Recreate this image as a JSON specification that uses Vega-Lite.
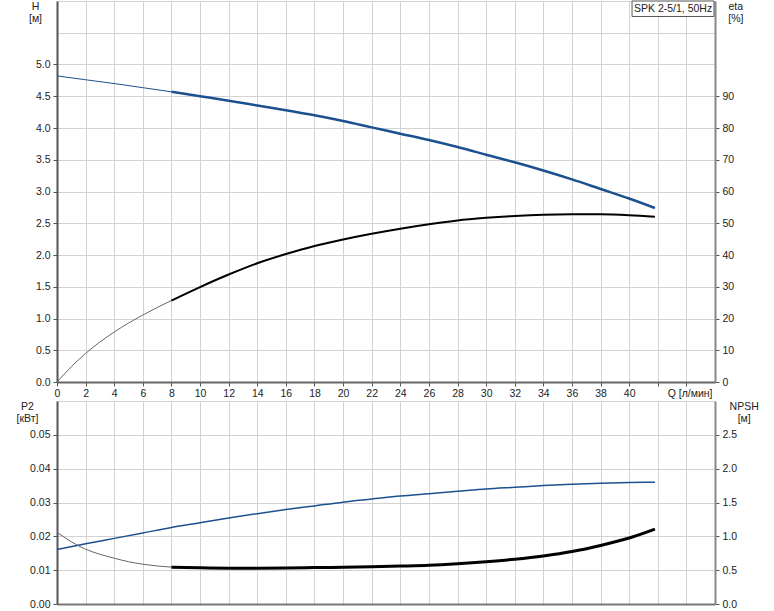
{
  "$schema": "https://vega.github.io/schema/vega-lite/v6.json",
  "padding": {"left": 16, "top": 0, "right": 0, "bottom": 0},
  "spacing": 2,
  "background": "white",
  "config": {
    "view": {"stroke": null},
    "font": "Liberation Sans",
    "axis": {
      "labelFont": "Liberation Sans", "labelFontSize": 10.5, "labelColor": "#222",
      "titleFont": "Liberation Sans", "titleFontSize": 10.5, "titleFontWeight": "normal", "titleColor": "#222",
      "gridColor": "#d2d2d2", "gridWidth": 1, "tickColor": "#555", "tickSize": 4, "labelPadding": 3,
      "domainWidth": 2, "domainColor": "#666", "titleLineHeight": 12, "tickCount": 100, "labelOverlap": false
    }
  },
  "datasets": {
    "H": [
      {"Q": 0, "v": 4.82, "part": "thin"}, {"Q": 2, "v": 4.76, "part": "thin"}, {"Q": 4, "v": 4.70, "part": "thin"},
      {"Q": 6, "v": 4.635, "part": "thin"}, {"Q": 8, "v": 4.57, "part": "thin"},
      {"Q": 8, "v": 4.57, "part": "thick"}, {"Q": 10, "v": 4.50, "part": "thick"}, {"Q": 12, "v": 4.43, "part": "thick"},
      {"Q": 14, "v": 4.355, "part": "thick"}, {"Q": 16, "v": 4.28, "part": "thick"}, {"Q": 18, "v": 4.20, "part": "thick"},
      {"Q": 20, "v": 4.11, "part": "thick"}, {"Q": 22, "v": 4.01, "part": "thick"}, {"Q": 24, "v": 3.91, "part": "thick"},
      {"Q": 26, "v": 3.81, "part": "thick"}, {"Q": 28, "v": 3.70, "part": "thick"}, {"Q": 30, "v": 3.58, "part": "thick"},
      {"Q": 32, "v": 3.46, "part": "thick"}, {"Q": 34, "v": 3.33, "part": "thick"}, {"Q": 36, "v": 3.19, "part": "thick"},
      {"Q": 38, "v": 3.04, "part": "thick"}, {"Q": 40, "v": 2.89, "part": "thick"}, {"Q": 41.8, "v": 2.74, "part": "thick"}
    ],
    "eta": [
      {"Q": 0, "v": 0, "part": "thin"}, {"Q": 1, "v": 4.8, "part": "thin"}, {"Q": 2, "v": 9.0, "part": "thin"},
      {"Q": 3, "v": 12.6, "part": "thin"}, {"Q": 4, "v": 15.75, "part": "thin"}, {"Q": 5, "v": 18.55, "part": "thin"},
      {"Q": 6, "v": 21.1, "part": "thin"}, {"Q": 7, "v": 23.45, "part": "thin"}, {"Q": 8, "v": 25.65, "part": "thin"},
      {"Q": 8, "v": 25.65, "part": "thick"}, {"Q": 10, "v": 29.9, "part": "thick"}, {"Q": 12, "v": 33.85, "part": "thick"},
      {"Q": 14, "v": 37.4, "part": "thick"}, {"Q": 16, "v": 40.3, "part": "thick"}, {"Q": 18, "v": 42.85, "part": "thick"},
      {"Q": 20, "v": 44.9, "part": "thick"}, {"Q": 22, "v": 46.7, "part": "thick"}, {"Q": 24, "v": 48.3, "part": "thick"},
      {"Q": 26, "v": 49.7, "part": "thick"}, {"Q": 28, "v": 50.9, "part": "thick"}, {"Q": 30, "v": 51.7, "part": "thick"},
      {"Q": 32, "v": 52.3, "part": "thick"}, {"Q": 34, "v": 52.7, "part": "thick"}, {"Q": 36, "v": 52.85, "part": "thick"},
      {"Q": 38, "v": 52.8, "part": "thick"}, {"Q": 40, "v": 52.5, "part": "thick"}, {"Q": 41.8, "v": 52.05, "part": "thick"}
    ],
    "P2": [
      {"Q": 0, "v": 0.0161}, {"Q": 2, "v": 0.0178}, {"Q": 4, "v": 0.0194}, {"Q": 6, "v": 0.0210}, {"Q": 8, "v": 0.0226},
      {"Q": 10, "v": 0.0240}, {"Q": 12, "v": 0.0254}, {"Q": 14, "v": 0.0267}, {"Q": 16, "v": 0.0279}, {"Q": 18, "v": 0.0290},
      {"Q": 20, "v": 0.0301}, {"Q": 22, "v": 0.0310}, {"Q": 24, "v": 0.0319}, {"Q": 26, "v": 0.0326}, {"Q": 28, "v": 0.0333},
      {"Q": 30, "v": 0.0340}, {"Q": 32, "v": 0.0345}, {"Q": 34, "v": 0.0350}, {"Q": 36, "v": 0.0354}, {"Q": 38, "v": 0.0357},
      {"Q": 40, "v": 0.0359}, {"Q": 41.8, "v": 0.0360}
    ],
    "NPSH": [
      {"Q": 0, "v": 1.06, "part": "thin"}, {"Q": 1, "v": 0.92, "part": "thin"}, {"Q": 2, "v": 0.81, "part": "thin"},
      {"Q": 3, "v": 0.735, "part": "thin"}, {"Q": 4, "v": 0.677, "part": "thin"}, {"Q": 5, "v": 0.625, "part": "thin"},
      {"Q": 6, "v": 0.588, "part": "thin"}, {"Q": 7, "v": 0.562, "part": "thin"}, {"Q": 8, "v": 0.545, "part": "thin"},
      {"Q": 8, "v": 0.545, "part": "thick"}, {"Q": 10, "v": 0.535, "part": "thick"}, {"Q": 12, "v": 0.53, "part": "thick"},
      {"Q": 14, "v": 0.53, "part": "thick"}, {"Q": 16, "v": 0.533, "part": "thick"}, {"Q": 18, "v": 0.538, "part": "thick"},
      {"Q": 20, "v": 0.543, "part": "thick"}, {"Q": 22, "v": 0.55, "part": "thick"}, {"Q": 24, "v": 0.56, "part": "thick"},
      {"Q": 26, "v": 0.572, "part": "thick"}, {"Q": 28, "v": 0.595, "part": "thick"}, {"Q": 30, "v": 0.625, "part": "thick"},
      {"Q": 32, "v": 0.662, "part": "thick"}, {"Q": 34, "v": 0.71, "part": "thick"}, {"Q": 36, "v": 0.775, "part": "thick"},
      {"Q": 38, "v": 0.865, "part": "thick"}, {"Q": 40, "v": 0.975, "part": "thick"}, {"Q": 41.8, "v": 1.107, "part": "thick"}
    ],
    "label": [{"text": "SPK 2-5/1, 50Hz"}]
  },
  "vconcat": [
    {
      "width": 658, "height": 381,
      "layer": [
        {
          "layer": [
            {
              "data": {"name": "H"},
              "transform": [{"filter": "datum.part == 'thin'"}],
              "mark": {"type": "line", "color": "#1c5190", "strokeWidth": 1, "interpolate": "monotone"},
              "encoding": {
                "x": {"field": "Q", "type": "quantitative",
                  "scale": {"domain": [0, 46], "nice": false, "zero": false},
                  "axis": {
                    "values": [0,2,4,6,8,10,12,14,16,18,20,22,24,26,28,30,32,34,36,38,40,42,44],
                    "format": "d",
                    "labelExpr": "datum.value > 40.5 ? '' : datum.label",
                    "title": "Q [л/мин]", "titleAlign": "right", "titleBaseline": "top",
                    "titleX": 655, "titleY": 6, "labelPadding": 2, "labelFlush": false, "labelOverlap": false,
                    "grid": true, "domainColor": "#666", "tickCount": 100
                  }
                },
                "y": {"field": "v", "type": "quantitative",
                  "scale": {"domain": [0, 6], "nice": false, "zero": true},
                  "axis": {
                    "values": [0,0.5,1,1.5,2,2.5,3,3.5,4,4.5,5,5.5,6],
                    "format": ".1f", "tickCount": 100, "labelOverlap": false,
                    "labelExpr": "datum.value > 5.01 ? '' : datum.label",
                    "labelFontSize": {"condition": {"test": "datum.value > 5.01", "value": 0}, "value": 10.5},
                    "tickOpacity": {"condition": {"test": "datum.value > 5.01", "value": 0}, "value": 1},
                    "title": ["H", "[м]"], "titleAngle": 0, "titleAlign": "center", "titleBaseline": "alphabetic",
                    "titleX": -22, "titleY": 8, "grid": true, "domainColor": "#555"
                  }
                }
              }
            },
            {
              "data": {"name": "H"},
              "transform": [{"filter": "datum.part == 'thick'"}],
              "mark": {"type": "line", "color": "#1c5190", "strokeWidth": 2.5, "interpolate": "monotone"},
              "encoding": {
                "x": {"field": "Q", "type": "quantitative"},
                "y": {"field": "v", "type": "quantitative"}
              }
            },
            {
              "data": {"name": "label"},
              "mark": {"type": "rect", "fill": "white", "stroke": "#555", "strokeWidth": 1},
              "encoding": {
                "x": {"datum": 40.2, "type": "quantitative"},
                "x2": {"datum": 45.93},
                "y": {"datum": 6.0, "type": "quantitative"},
                "y2": {"datum": 5.756}
              }
            },
            {
              "data": {"name": "label"},
              "mark": {"type": "text", "font": "Liberation Sans", "fontSize": 10.5, "color": "#222", "align": "center", "baseline": "middle"},
              "encoding": {
                "x": {"datum": 43.07, "type": "quantitative"},
                "y": {"datum": 5.88, "type": "quantitative"},
                "text": {"field": "text"}
              }
            }
          ]
        },
        {
          "layer": [
            {
              "data": {"name": "eta"},
              "transform": [{"filter": "datum.part == 'thin'"}],
              "mark": {"type": "line", "color": "#666", "strokeWidth": 1, "interpolate": "monotone"},
              "encoding": {
                "x": {"field": "Q", "type": "quantitative"},
                "y": {"field": "v", "type": "quantitative",
                  "scale": {"domain": [0, 120], "nice": false},
                  "axis": {
                    "orient": "right",
                    "values": [0,10,20,30,40,50,60,70,80,90],
                    "format": "d", "tickCount": 100, "labelOverlap": false,
                    "grid": false,
                    "title": ["eta", "[%]"], "titleAngle": 0, "titleAlign": "center", "titleBaseline": "alphabetic",
                    "titleX": 20.3, "titleY": 8, "domainColor": "#888"
                  }
                }
              }
            },
            {
              "data": {"name": "eta"},
              "transform": [{"filter": "datum.part == 'thick'"}],
              "mark": {"type": "line", "color": "#000", "strokeWidth": 2, "interpolate": "monotone"},
              "encoding": {
                "x": {"field": "Q", "type": "quantitative"},
                "y": {"field": "v", "type": "quantitative"}
              }
            }
          ]
        }
      ],
      "resolve": {"scale": {"y": "independent"}}
    },
    {
      "width": 658, "height": 203,
      "layer": [
        {
          "data": {"name": "P2"},
          "mark": {"type": "line", "color": "#1c5190", "strokeWidth": 1.5, "interpolate": "monotone"},
          "encoding": {
            "x": {"field": "Q", "type": "quantitative",
              "scale": {"domain": [0, 46], "nice": false, "zero": false},
              "axis": {
                "values": [0,2,4,6,8,10,12,14,16,18,20,22,24,26,28,30,32,34,36,38,40,42,44],
                "tickCount": 100,
                "labels": false, "ticks": false, "title": null, "grid": true, "domainColor": "#777"
              }
            },
            "y": {"field": "v", "type": "quantitative",
              "scale": {"domain": [0, 0.06], "nice": false, "zero": true},
              "axis": {
                "values": [0,0.01,0.02,0.03,0.04,0.05,0.06],
                "format": ".2f", "tickCount": 100, "labelOverlap": false,
                "labelExpr": "datum.value > 0.055 ? '' : datum.label",
                "labelFontSize": {"condition": {"test": "datum.value > 0.055", "value": 0}, "value": 10.5},
                "tickOpacity": {"condition": {"test": "datum.value > 0.055", "value": 0}, "value": 1},
                "title": ["P2", "[кВт]"], "titleAngle": 0, "titleAlign": "center", "titleBaseline": "alphabetic",
                "titleX": -30, "titleY": 8.5, "grid": true, "domainColor": "#555"
              }
            }
          }
        },
        {
          "layer": [
            {
              "data": {"name": "NPSH"},
              "transform": [{"filter": "datum.part == 'thin'"}],
              "mark": {"type": "line", "color": "#666", "strokeWidth": 1, "interpolate": "monotone"},
              "encoding": {
                "x": {"field": "Q", "type": "quantitative"},
                "y": {"field": "v", "type": "quantitative",
                  "scale": {"domain": [0, 3], "nice": false},
                  "axis": {
                    "orient": "right",
                    "values": [0,0.5,1,1.5,2,2.5],
                    "format": ".1f", "tickCount": 100, "labelOverlap": false,
                    "grid": false,
                    "title": ["NPSH", "[м]"], "titleAngle": 0, "titleAlign": "center", "titleBaseline": "alphabetic",
                    "titleX": 28.7, "titleY": 8.5, "domainColor": "#888"
                  }
                }
              }
            },
            {
              "data": {"name": "NPSH"},
              "transform": [{"filter": "datum.part == 'thick'"}],
              "mark": {"type": "line", "color": "#000", "strokeWidth": 3, "interpolate": "monotone"},
              "encoding": {
                "x": {"field": "Q", "type": "quantitative"},
                "y": {"field": "v", "type": "quantitative"}
              }
            }
          ]
        }
      ],
      "resolve": {"scale": {"y": "independent"}}
    }
  ]
}
